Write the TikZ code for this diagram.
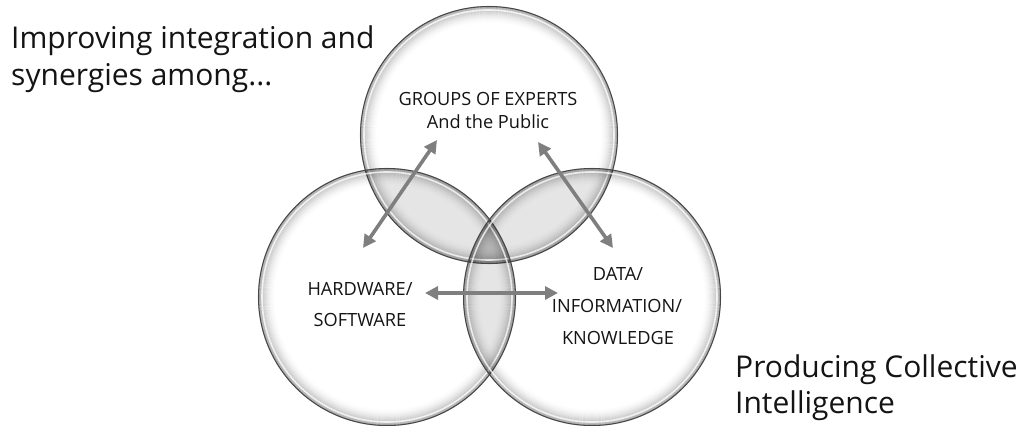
\documentclass[tikz,border=0pt]{standalone}
\usepackage{fontspec}
\setmainfont{Open Sans}
\usetikzlibrary{arrows.meta}
\definecolor{linkgray}{HTML}{7F7F7F}
\definecolor{textdark}{HTML}{141414}
\begin{document}
\begin{tikzpicture}[x=1pt,y=-1pt,
  bigtext/.style={anchor=base west, inner sep=0pt, font=\fontsize{30}{36}\selectfont, text=textdark},
  setlabel/.style={anchor=base, inner sep=0pt, font=\fontsize{18.2}{22}\selectfont, text=textdark},
  link/.style={linkgray, line width=3.6pt,
    {Triangle[length=13pt,width=13pt]}-{Triangle[length=13pt,width=13pt]}},
  rimline/.style={black, line width=1.1pt},
  outline/.style={black!72, line width=1pt}
]
\useasboundingbox (0,0) rectangle (1021,426);

% circle centres
\coordinate (ctop)   at (489,135);
\coordinate (cleft)  at (387,297);
\coordinate (cright) at (592,297);
\def\rad{128.5}

% pairwise overlaps, slightly darker
\foreach \a/\b in {ctop/cleft, ctop/cright, cleft/cright}{
  \begin{scope}
    \clip (\a) circle[radius=\rad pt];
    \fill[black, opacity=0.10] (\b) circle[radius=\rad pt];
  \end{scope}
}

% soft inner rim of each bubble
\foreach \c in {ctop, cleft, cright}{
  \foreach \d in {0,...,17}{
    \pgfmathsetmacro\op{0.30*(1-\d/18)^2}
    \pgfmathsetmacro\rr{\rad-\d}
    \draw[rimline, draw opacity=\op] (\c) circle[radius=\rr pt];
  }
  \pgfmathsetmacro\rh{\rad-3.5}
  \draw[white, line width=1.6pt, opacity=0.75] (\c) circle[radius=\rh pt];
  \draw[outline] (\c) circle[radius=\rad pt];
}

% labels inside the circles
\node[setlabel] (g1) at (488,105) {GROUPS OF EXPERTS};
\node[setlabel] (g2) at (488,128) {And the Public};
\node[setlabel] (h1) at (360,295) {HARDWARE/};
\node[setlabel] (h2) at (360,326) {SOFTWARE};
\node[setlabel] (d1) at (618,280) {DATA/};
\node[setlabel] (d2) at (617,312) {INFORMATION/};
\node[setlabel] (d3) at (618,344) {KNOWLEDGE};

% arrow end points
\coordinate (lgA) at (363,248);
\coordinate (lgB) at (437,140);
\coordinate (rgA) at (538,142);
\coordinate (rgB) at (613,248);
\coordinate (hzA) at (425,293);
\coordinate (hzB) at (558,293);

\draw[link] (lgA) -- (lgB);
\draw[link] (rgA) -- (rgB);
\draw[link] (hzA) -- (hzB);

% captions
\node[bigtext] (cap1) at (11,48) {Improving integration and};
\node[bigtext] (cap2) at (11,85) {synergies among...};
\node[bigtext] (cap3) at (735,377) {Producing Collective};
\node[bigtext] (cap4) at (735,413) {Intelligence};
\end{tikzpicture}
\end{document}
